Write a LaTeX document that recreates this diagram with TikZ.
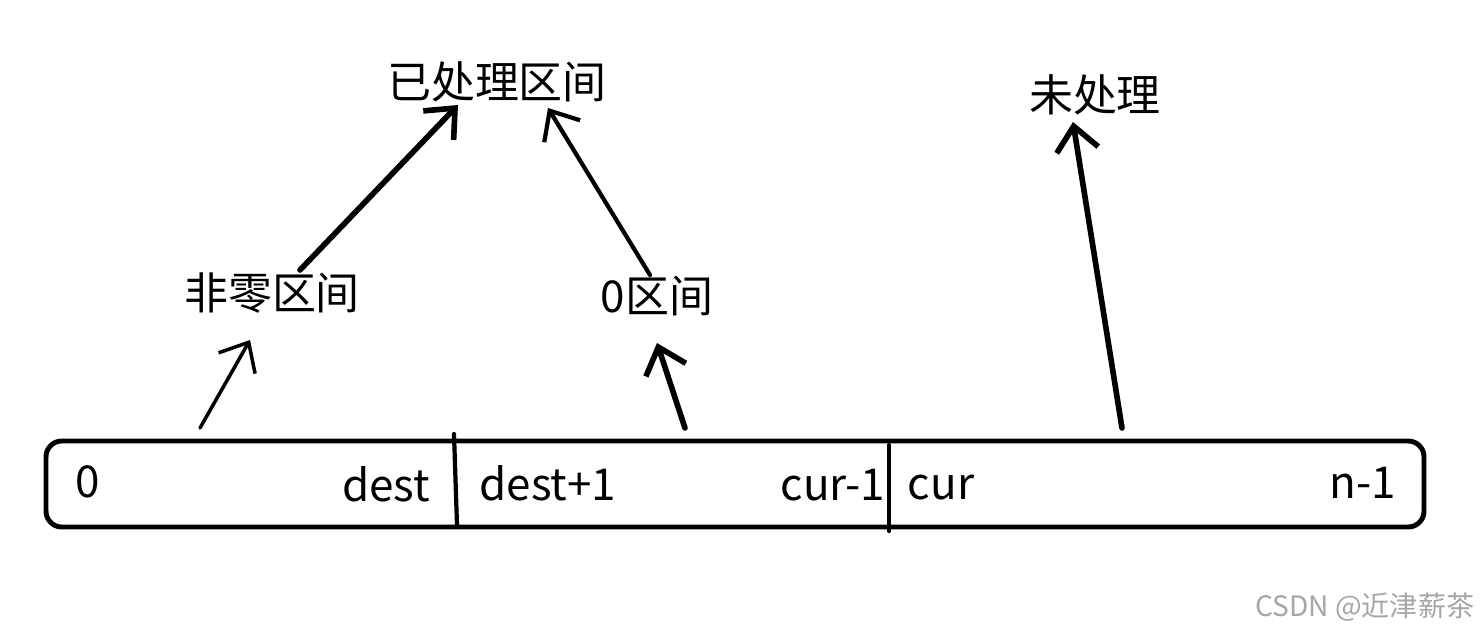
\documentclass[tikz,border=0pt]{standalone}
\usepackage{fontspec}
\setmainfont{Noto Sans CJK SC}
\usetikzlibrary{arrows.meta}

\tikzset{
  lbl/.style={inner sep=0pt,font=\fontsize{12.5}{15}\selectfont},
  cell/.style={inner sep=0pt,anchor=base,font=\fontsize{12.5}{15}\selectfont},
  thinarrow/.style={->,line width=1.0pt},
  thickarrow/.style={->,line width=1.6pt},
}

\begin{document}
\begin{tikzpicture}[x=0.01cm,y=-0.01cm,>={Straight Barb[length=2.4mm,width=4.2mm]},line cap=round,line join=round]
  \useasboundingbox (0,0) rectangle (1481,633);
  % the array
  \draw[line width=1.4pt,rounded corners=4.5pt] (46,441) rectangle (1424,527);
  \draw[line width=1.2pt] (454,434) -- (457,525);
  \draw[line width=1.2pt] (889,445) -- (889,531);
  \node[cell] (c0) at (88,497) {0};
  \node[cell] (cdest) at (386,501) {dest};
  \node[cell] (cdestp) at (548,500) {dest+1};
  \node[cell] (ccurm) at (833,500) {cur-1};
  \node[cell] (ccur) at (941,499) {cur};
  \node[cell] (cn) at (1363,498) {n-1};
  % labels
  \node[lbl] (done) at (497,82) {已处理区间};
  \node[lbl] (todo) at (1095,95) {未处理};
  \node[lbl] (nonzero) at (272,293) {非零区间};
  \node[lbl] (zero) at (657,296) {0区间};
  % arrow ends
  \coordinate (s1) at (200,428);
  \coordinate (e1) at (250,340);
  \coordinate (s2) at (685,428);
  \coordinate (e2) at (657,343);
  \coordinate (s3) at (1122,428);
  \coordinate (e3) at (1073,122);
  \coordinate (s4) at (300,270);
  \coordinate (e4) at (458,105);
  \coordinate (s5) at (650,275);
  \coordinate (e5) at (548,108);
  \draw[thinarrow] (s1) -- (e1);
  \draw[thickarrow] (s2) -- (e2);
  \draw[thickarrow] (s3) -- (e3);
  \draw[thickarrow] (s4) -- (e4);
  \draw[thinarrow,line width=1.2pt] (s5) -- (e5);
  % watermark
  \node[inner sep=0pt,anchor=east,text=black!35,font=\fontsize{8}{10}\selectfont] (mark) at (1475,607) {CSDN @近津薪茶};
\end{tikzpicture}
\end{document}
